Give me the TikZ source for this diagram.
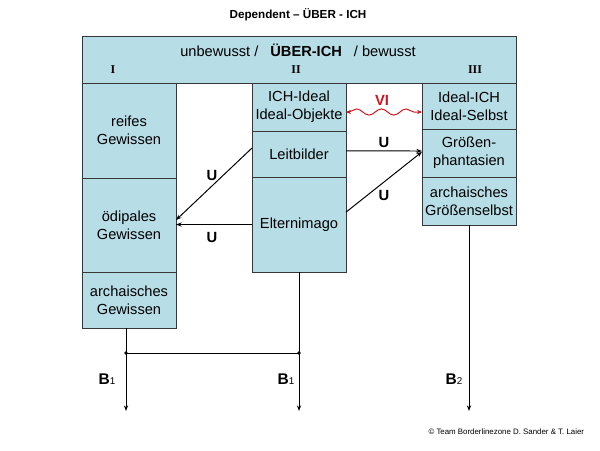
\documentclass[tikz,border=0pt]{standalone}
\usepackage{fontspec}
\setmainfont{Liberation Sans}
\newfontfamily\romfont{Liberation Serif}
\usetikzlibrary{positioning,arrows.meta,decorations.pathmorphing}
\definecolor{boxblue}{RGB}{183,221,230}
\definecolor{boxline}{RGB}{55,55,55}
\definecolor{vired}{RGB}{210,20,30}
\begin{document}
\begin{tikzpicture}[x=0.025cm,y=-0.025cm,
  box/.style={draw=boxline,fill=boxblue,line width=0.7pt,outer sep=0pt,inner sep=1pt,
    minimum width=2.35cm,align=center,font=\fontsize{10.4}{12.8}\selectfont},
  numeral/.style={font=\romfont\bfseries\fontsize{8.5}{8.5}\selectfont},
  ulabel/.style={font=\bfseries\fontsize{10.5}{10.5}\selectfont},
  blabel/.style={font=\bfseries\fontsize{11}{11}\selectfont},
  arr/.style={-{Stealth[length=4pt,width=3pt]},line width=0.7pt},
  wave/.style={{Stealth[length=3.5pt,width=3pt]}-{Stealth[length=3.5pt,width=3pt]},vired,line width=0.7pt,
    decorate,decoration={snake,amplitude=2.2pt,segment length=0.62cm,pre length=2pt,post length=2pt}}]
\useasboundingbox (0,0) rectangle (600,450);
\node[font=\bfseries\fontsize{8.3}{8.3}\selectfont] (title) at (298,15) {Dependent -- ÜBER - ICH};
% Band
\node[box,anchor=north west,minimum width=10.85cm,minimum height=1.175cm] (band) at (82,36) {};
\node[font=\fontsize{10.4}{10.4}\selectfont] (bandtext) at (298,50)
  {unbewusst /\hspace{0.3cm}\textbf{ÜBER-ICH}\hspace{0.3cm}/ bewusst};
\node[numeral] (numI) at (113,70) {I};
\node[numeral] (numII) at (296,70) {II};
\node[numeral] (numIII) at (475,70) {III};
% Columns
\node[box,anchor=north west,minimum height=2.375cm] (reifes) at (82,83) {reifes\\Gewissen};
\node[box,minimum height=2.35cm,below=0pt of reifes] (oedipal) {ödipales\\Gewissen};
\node[box,minimum height=1.4cm,below=0pt of oedipal] (archgew) {archaisches\\Gewissen};
\node[box,anchor=north west,minimum height=1.2cm] (ichideal) at (252,83) {ICH-Ideal\\Ideal-Objekte};
\node[box,minimum height=1.15cm,below=0pt of ichideal] (leitbilder) {Leitbilder};
\node[box,minimum height=2.375cm,below=0pt of leitbilder] (eltern) {Elternimago};
\node[box,anchor=north west,minimum height=1.15cm] (idealich) at (422,83) {Ideal-ICH\\Ideal-Selbst};
\node[box,minimum height=1.2cm,below=0pt of idealich] (groessen) {Größen-\\phantasien};
\node[box,minimum height=1.2cm,below=0pt of groessen] (archselbst) {archaisches\\Größenselbst};
% Arrows
\draw[arr] ([yshift=0.15cm]leitbilder.west) -- ([yshift=0.125cm]oedipal.east);
\draw[arr] (eltern.west) -- (eltern.west -| oedipal.east);
\draw[arr] ([yshift=0.08cm]leitbilder.east) -- ([yshift=0.05cm]groessen.west);
\draw[arr] ([yshift=0.31cm]eltern.east) -- ([yshift=0.03cm]groessen.west);
\draw[wave] ([yshift=-0.125cm]ichideal.east) -- ([yshift=-0.125cm]ichideal.east -| idealich.west);
\node[ulabel] (u1) at (212,175) {U};
\node[ulabel] (u2) at (212,237) {U};
\node[ulabel] (u3) at (384,142) {U};
\node[ulabel] (u4) at (384,195) {U};
\node[font=\bfseries\fontsize{10.5}{10.5}\selectfont,text=vired] (vi) at (382,100) {VI};
% Bottom lines
\coordinate (topl) at ([xshift=-0.075cm]archgew.south);
\coordinate (jl) at (topl |- 0,353);
\coordinate (jm) at (eltern.south |- jl);
\coordinate (endl) at (jl |- 0,411);
\coordinate (endm) at (jm |- endl);
\coordinate (endr) at (archselbst.south |- endl);
\draw[line width=0.7pt] (topl) -- (jl) -- (jm) -- (eltern.south);
\draw[arr] (jl) -- (endl);
\draw[arr] (jm) -- (endm);
\draw[arr] (archselbst.south) -- (endr);
\fill (jl) circle[radius=1.4pt];
\fill (jm) circle[radius=1.4pt];
\node[blabel] (b1l) at (107,379) {B{\mdseries\fontsize{7}{7}\selectfont 1}};
\node[blabel] (b1m) at (286,379) {B{\mdseries\fontsize{7}{7}\selectfont 1}};
\node[blabel] (b2r) at (454,379) {B{\mdseries\fontsize{7}{7}\selectfont 2}};
\node[font=\fontsize{5.6}{5.6}\selectfont,anchor=east] (copy) at (589,432) {© Team Borderlinezone D. Sander \& T. Laier};
\end{tikzpicture}
\end{document}
